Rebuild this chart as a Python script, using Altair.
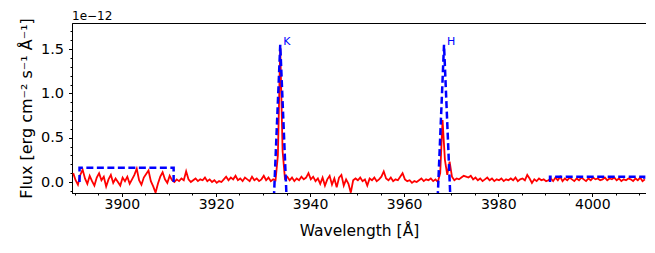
import altair as alt
import pandas as pd

# ---------------- data (flux in units of 1e-12) ----------------
wave_start = 3889.66
wave_step = 0.5
flux = [
    # 3889.66 - 3911.16
    0.10, 0.02, -0.03, 0.08, 0.14, 0.04, -0.02, 0.07, 0.01, -0.04,
    0.05, 0.10, 0.02, 0.06, -0.05, 0.03, 0.08, -0.01, 0.04, 0.00,
    -0.04, 0.05, 0.01, 0.06, -0.02, 0.03, 0.08, 0.15, 0.02, -0.03,
    0.05, 0.09, 0.13, 0.01, -0.05, -0.12, -0.02, 0.06, 0.11, 0.03,
    -0.01, 0.07, 0.02, 0.00,
    # 3911.66 - 3932.66
    0.03, 0.01, 0.04, 0.02, 0.12, 0.03, 0.00, 0.02, 0.04, 0.01,
    0.03, 0.02, 0.05, 0.01, 0.03, 0.00, 0.02, -0.01, 0.01, 0.00,
    0.03, 0.06, 0.02, 0.05, 0.03, 0.07, 0.02, 0.04, 0.01, 0.05,
    0.03, 0.01, 0.06, 0.02, 0.04, 0.01, 0.03, 0.07, 0.02, 0.05,
    0.01, 0.03, 0.02,
    # K line 3933.16 - 3934.66
    0.30, 1.52, 0.35, 0.04,
    # 3935.16 - 3949.16
    0.06, 0.02, 0.05, 0.01, 0.04, 0.02, 0.06, 0.03, 0.05, 0.10,
    0.03, 0.06, 0.01, 0.04, -0.02, 0.05, -0.04, 0.03, 0.07, -0.03,
    0.04, -0.06, 0.05, 0.08, -0.04, 0.03, -0.02, -0.12, 0.02,
    # 3949.66 - 3966.66
    0.04, 0.02, 0.05, 0.01, 0.03, -0.04, 0.04, 0.02, 0.05, 0.01,
    0.03, 0.06, 0.12, 0.04, 0.02, 0.05, 0.01, 0.03, 0.02, 0.06,
    0.10, 0.03, 0.01, 0.02, -0.01, 0.01, 0.00, 0.02, 0.04, 0.01,
    0.03, 0.02, 0.04, 0.01, 0.03,
    # H line 3967.16 - 3970.16
    0.00, 0.10, 0.70, 0.25, 0.08, 0.23, 0.06,
    # 3970.66 - 4011.16
    0.02, 0.04, 0.03, 0.05, 0.07, 0.06, 0.05, 0.07, 0.03, 0.05,
    0.02, 0.04, 0.01, 0.03, 0.05, 0.02, 0.04, 0.01, 0.03, 0.02,
    0.04, 0.01, 0.03, 0.02, 0.04, 0.02, 0.05, 0.01, 0.03, 0.04,
    0.02, 0.08, 0.04, -0.01, 0.03, 0.01, 0.04, 0.02, 0.03, 0.01,
    0.02, 0.04, 0.01, 0.05, 0.02, 0.06, 0.01, 0.04, 0.02, 0.05,
    0.03, 0.01, 0.04, 0.02, 0.05, 0.03, 0.01, 0.04, 0.02, 0.05,
    0.03, 0.04, 0.02, 0.03, 0.05, 0.02, 0.04, 0.03, 0.05, 0.02,
    0.04, 0.01, 0.03, 0.02, 0.04, 0.03, 0.01, 0.04, 0.02, 0.05,
    0.01, 0.03,
]
wave = [round(wave_start + wave_step * i, 2) for i in range(len(flux))]

# passbands (blue dashed)
band_v_wave = [3891, 3891, 3911, 3911]
band_v_flux = [0.0, 0.16, 0.16, 0.0]
band_r_wave = [3991, 3991, 4011, 4011]
band_r_flux = [0.0, 0.06, 0.06, 0.0]
k_wave = [3932.22, 3933.66, 3935.10]
k_flux = [-0.3, 1.55, -0.3]
h_wave = [3967.03, 3968.47, 3969.91]
h_flux = [-0.3, 1.55, -0.3]

line_names = ["K", "H"]
line_centers = [3933.66, 3968.47]
line_peaks = [1.55, 1.55]

x_domain = [3889.4, 4011.4]
y_domain = [-0.124, 1.795]
x_major = [3900, 3920, 3940, 3960, 3980, 4000]
x_minor = [3890, 3895, 3905, 3910, 3915, 3925, 3930, 3935, 3945, 3950, 3955,
           3965, 3970, 3975, 3985, 3990, 3995, 4005, 4010]
y_major = [0.0, 0.5, 1.0, 1.5]
y_minor = [-0.1, 0.1, 0.2, 0.3, 0.4, 0.6, 0.7, 0.8, 0.9, 1.1, 1.2, 1.3, 1.4, 1.6, 1.7]

# ---------------- tables ----------------
df_flux = pd.DataFrame({"wave": wave, "flux": flux})

rows = []
for name, ws, fs in [("V", band_v_wave, band_v_flux), ("R", band_r_wave, band_r_flux),
                     ("Ktri", k_wave, k_flux), ("Htri", h_wave, h_flux)]:
    for i, (w, f) in enumerate(zip(ws, fs)):
        rows.append({"shape": name, "idx": i, "wave": w, "flux": f})
df_bands = pd.DataFrame(rows)
df_labels = pd.DataFrame({"name": line_names, "wave": line_centers, "flux": line_peaks})

FONT = "DejaVu Sans"
xscale = alt.Scale(domain=x_domain, nice=False, zero=False)
yscale = alt.Scale(domain=y_domain, nice=False, zero=False)

main = alt.Chart(df_flux).mark_line(color="red", strokeWidth=1.8, clip=True).encode(
    x=alt.X("wave:Q", scale=xscale,
            axis=alt.Axis(orient="bottom", values=x_major, format="d", grid=False,
                          tickSize=3.5, tickColor="black", domainColor="black",
                          labelFontSize=14, labelFont=FONT, labelColor="black",
                          labelPadding=1, labelOverlap=False,
                          title="Wavelength [Å]", titleFont=FONT, titleFontSize=15.5,
                          titleFontWeight="normal", titleColor="black", titlePadding=12)),
    y=alt.Y("flux:Q", scale=yscale,
            axis=alt.Axis(orient="left", values=y_major, format=".1f", grid=False,
                          tickSize=3.5, tickColor="black", domainColor="black",
                          labelFontSize=14.5, labelFont=FONT, labelColor="black",
                          labelPadding=5, labelOverlap=False,
                          title="Flux [erg cm⁻² s⁻¹ Å⁻¹]", titleFont=FONT, titleFontSize=16,
                          titleFontWeight="normal", titleColor="black", titlePadding=6)),
)

minor = alt.Chart(df_flux).mark_point(opacity=0).encode(
    x=alt.X("wave:Q", scale=xscale,
            axis=alt.Axis(orient="bottom", values=x_minor, labels=False, domain=False,
                          grid=False, tickSize=2, tickColor="black", title=None)),
    y=alt.Y("flux:Q", scale=yscale,
            axis=alt.Axis(orient="left", values=y_minor, labels=False, domain=False,
                          grid=False, tickSize=2, tickColor="black", title=None)),
)

bands = alt.Chart(df_bands).mark_line(color="blue", strokeWidth=2.5, strokeDash=[7, 3.5],
                                      clip=True).encode(
    x=alt.X("wave:Q", scale=xscale, axis=None),
    y=alt.Y("flux:Q", scale=yscale, axis=None),
    detail="shape:N",
    order="idx:Q",
)

labels = alt.Chart(df_labels).mark_text(color="blue", fontSize=11, font=FONT, align="left",
                                        baseline="alphabetic", dx=3).encode(
    x=alt.X("wave:Q", scale=xscale, axis=None),
    y=alt.Y("flux:Q", scale=yscale, axis=None),
    text="name:N",
)

offset = alt.Chart(pd.DataFrame({"t": ["1e−12"]})).mark_text(
    fontSize=12, font=FONT, align="left", baseline="alphabetic", color="black").encode(
    x=alt.value(0), y=alt.value(-3), text="t:N")

chart = alt.layer(minor, main, bands, labels, offset).resolve_axis(
    x="independent", y="independent"
).properties(
    width=574, height=170,
    padding={"left": 64, "top": 15, "right": 0, "bottom": 50},
    autosize=alt.AutoSizeParams(type="none"),
).configure(background="white").configure_view(stroke="black", strokeWidth=1)

chart.save("out.html", embed_options={"renderer": "svg", "actions": False})
